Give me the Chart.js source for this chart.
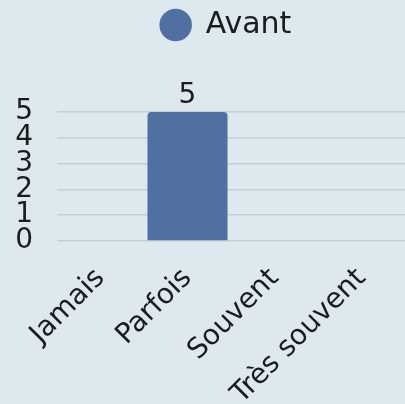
<!DOCTYPE html>
<html lang="fr">
<head>
<meta charset="UTF-8">
<title>Avant</title>
<script src="https://cdn.jsdelivr.net/npm/chart.js"></script>
<style>
  html, body { margin: 0; padding: 0; background: #dde8ef; }
  #wrap { width: 405px; height: 404px; }
</style>
</head>
<body>
<div id="wrap"><canvas id="chart" width="405" height="404"></canvas></div>
<script>
const categories = ["Jamais", "Parfois", "Souvent", "Très souvent"];
const seriesName = "Avant";
const avantValues = [0, 5, 0, 0];
const yTicks = [0, 1, 2, 3, 4, 5];

const FONT = "'DejaVu Sans', sans-serif";
const TEXT = "#1c1c1c";

// draws the value above each non-zero bar
const valueLabels = {
  id: 'valueLabels',
  afterDatasetsDraw(chart) {
    const ctx = chart.ctx;
    const meta = chart.getDatasetMeta(0);
    ctx.save();
    ctx.font = "28px " + FONT;
    ctx.fillStyle = TEXT;
    ctx.textAlign = 'center';
    ctx.textBaseline = 'bottom';
    meta.data.forEach((bar, i) => {
      const v = avantValues[i];
      if (v > 0) ctx.fillText(String(v), bar.x, bar.y - 2);
    });
    ctx.restore();
  }
};

// extra space under the legend, legend nudged towards the plot centre,
// and rotated x labels allowed to hang left of the plot
const layoutTweaks = {
  id: 'layoutTweaks',
  beforeInit(chart) {
    const fit = chart.legend.fit;
    chart.legend.fit = function () {
      fit.bind(chart.legend)();
      this.height += 62;
    };
  },
  beforeLayout(chart) {
    const x = chart.scales.x;
    if (x) x.getPadding = () => ({ left: 0, top: 0, right: 0, bottom: 0 });
  },
  afterLayout(chart) {
    chart.legend.left += 16;
    chart.legend.right += 16;
  }
};

new Chart(document.getElementById('chart'), {
  type: 'bar',
  data: {
    labels: categories,
    datasets: [{
      label: seriesName,
      data: avantValues,
      backgroundColor: '#4f70a0',
      borderRadius: { topLeft: 4, topRight: 4 },
      borderSkipped: 'bottom',
      barPercentage: 0.92,
      categoryPercentage: 1
    }]
  },
  options: {
    responsive: false,
    animation: false,
    layout: { padding: { left: 15, right: 0, top: 0, bottom: 0 } },
    plugins: {
      legend: {
        labels: {
          usePointStyle: true,
          pointStyle: 'circle',
          boxHeight: 23,
          padding: 10,
          color: TEXT,
          font: { family: FONT, size: 30 }
        }
      },
      tooltip: { enabled: false }
    },
    scales: {
      x: {
        grid: { display: false },
        border: { display: false },
        ticks: {
          color: TEXT,
          font: { family: FONT, size: 28, lineHeight: 1 },
          maxRotation: 45,
          minRotation: 45,
          autoSkip: false,
          padding: 15
        },
        afterFit(axis) {
          axis.height = 163;
        }
      },
      y: {
        min: 0,
        max: 5,
        afterBuildTicks(axis) { axis.ticks = yTicks.map(v => ({ value: v })); },
        grid: { color: '#c5cfd6', lineWidth: 1.5, drawTicks: false },
        border: { display: false },
        ticks: {
          color: TEXT,
          autoSkip: false,
          font: { family: FONT, size: 28, lineHeight: 1 },
          padding: 24
        },
        afterFit(axis) {
          axis.width = 42;
        }
      }
    }
  },
  plugins: [valueLabels, layoutTweaks]
});
</script>
</body>
</html>
